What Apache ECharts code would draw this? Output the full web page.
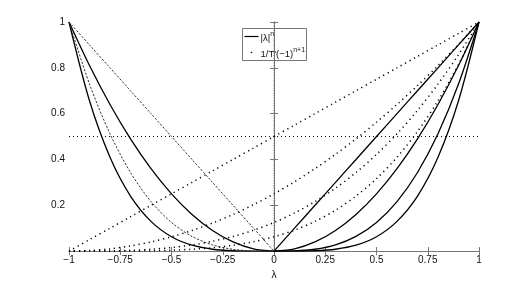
<!DOCTYPE html>
<html><head><meta charset="utf-8">
<script src="https://cdn.jsdelivr.net/npm/echarts@6/dist/echarts.min.js"></script>
<style>html,body{margin:0;padding:0;background:#fff}#c{width:530px;height:285px}</style>
</head><body><div id="c"></div>
<script>
// Right half abscissae and |λ|^n values
var xPos = [0,0.1,0.2,0.3,0.4,0.5,0.6,0.7,0.8,0.9,1];
var pow1 = [0,0.1,0.2,0.3,0.4,0.5,0.6,0.7,0.8,0.9,1];
var pow2 = [0,0.01,0.04,0.09,0.16,0.25,0.36,0.49,0.64,0.81,1];
var pow3 = [0,0.001,0.008,0.027,0.064,0.125,0.216,0.343,0.512,0.729,1];
var pow4 = [0,0.0001,0.0016,0.0081,0.0256,0.0625,0.1296,0.2401,0.4096,0.6561,1];
// Full abscissae and dotted curves
var xFull = [-1,-0.9,-0.8,-0.7,-0.6,-0.5,-0.4,-0.3,-0.2,-0.1,0,0.1,0.2,0.3,0.4,0.5,0.6,0.7,0.8,0.9,1];
var dot1 = [0,0.05,0.1,0.15,0.2,0.25,0.3,0.35,0.4,0.45,0.5,0.55,0.6,0.65,0.7,0.75,0.8,0.85,0.9,0.95,1];
var dot2 = [0,0.0025,0.01,0.0225,0.04,0.0625,0.09,0.1225,0.16,0.2025,0.25,0.3025,0.36,0.4225,0.49,0.5625,0.64,0.7225,0.81,0.9025,1];
var dot3 = [0,0.0001,0.001,0.0034,0.008,0.0156,0.027,0.0429,0.064,0.0911,0.125,0.1664,0.216,0.2746,0.343,0.4219,0.512,0.6141,0.729,0.8574,1];
var dot4 = [0,0,0.0001,0.0005,0.0016,0.0039,0.0081,0.015,0.0256,0.041,0.0625,0.0915,0.1296,0.1785,0.2401,0.3164,0.4096,0.522,0.6561,0.8145,1];
var xTicks = [-1,-0.75,-0.5,-0.25,0,0.25,0.5,0.75,1];
var yTicks = [0.2,0.4,0.6,0.8,1];

function mirror(xs, ys){ var o=[]; for (var i=xs.length-1;i>=0;i--) o.push([-xs[i], ys[i]]); return o; }
function pairs(xs, ys){ return xs.map(function(x,i){return [x, ys[i]];}); }

var solid = {color:'#000', width:1.3, type:'solid'};
var dotted = {color:'#000', width:1.5, type:[1.2,3.8], cap:'butt'};
var thinDot = {color:'#333', width:1, type:[2.2,1.6]};

function S(data, ls){ return {type:'line', data:data, showSymbol:false, smooth:0.3, lineStyle:ls, silent:true, animation:false, z:3}; }

var series = [
  S(pairs(xPos,pow1), solid), S(pairs(xPos,pow2), solid), S(pairs(xPos,pow3), solid), S(pairs(xPos,pow4), solid),
  S(mirror(xPos,pow2), solid), S(mirror(xPos,pow4), solid),
  S(mirror(xPos,pow1), thinDot), S(mirror(xPos,pow3), thinDot),
  S(pairs(xFull,dot1), dotted), S(pairs(xFull,dot2), dotted), S(pairs(xFull,dot3), dotted), S(pairs(xFull,dot4), dotted),
  {type:'line', data:[[-1,0.5],[1,0.5]], showSymbol:false, lineStyle:{color:'#000',width:1,type:[1,3]}, silent:true, animation:false},
  {type:'line', data:[[0,0],[0,1]], showSymbol:false, lineStyle:{color:'#666',width:1,type:[1,1.5]}, silent:true, animation:false, z:1}
];

var ax = {color:'#777', width:1};
var richT = {
  b:{fontFamily:'Liberation Sans', fontSize:9.5, fill:'#111', lineHeight:13, verticalAlign:'bottom'},
  s:{fontFamily:'Liberation Sans', fontSize:7, fill:'#111', lineHeight:13, verticalAlign:'top'}
};
var chart = echarts.init(document.getElementById('c'), null, {renderer:'canvas'});
chart.setOption({
  animation:false,
  backgroundColor:'#fff',
  grid:{left:69, right:51, top:22, bottom:32, show:false},
  xAxis:[
    {type:'value', min:-1, max:1, interval:0.25, axisLine:{onZero:false, lineStyle:ax},
     axisTick:{inside:true, length:4, lineStyle:ax}, splitLine:{show:false},
     axisLabel:{color:'#111', fontFamily:'Liberation Sans', fontSize:10, margin:4,
       formatter:function(v){ return (v<0?'\u2212':'') + String(Math.abs(v)); }},
     name:'\u03bb', nameLocation:'middle', nameGap:14, nameTextStyle:{color:'#111', fontFamily:'Liberation Sans', fontSize:10}},
    {type:'value', position:'top', min:-1, max:1, interval:0.25, axisLine:{lineStyle:ax},
     axisTick:{inside:true, length:4, lineStyle:ax}, axisLabel:{show:false}, splitLine:{show:false}}
  ],
  yAxis:[
    {type:'value', min:0, max:1, interval:0.2, axisLine:{show:true, lineStyle:ax},
     axisTick:{inside:true, length:4, lineStyle:ax}, splitLine:{show:false},
     axisLabel:{color:'#111', fontFamily:'Liberation Sans', fontSize:10, margin:4,
       formatter:function(v){ return v===0 ? '' : String(Math.round(v*10)/10); }}},
    {type:'value', position:'right', min:0, max:1, interval:0.2, axisLine:{show:true, lineStyle:ax},
     axisTick:{inside:true, length:4, lineStyle:ax}, axisLabel:{show:false}, splitLine:{show:false}}
  ],
  series: series,
  graphic:[{
    type:'group', left:242, top:28, z:100,
    children:[
      {type:'rect', shape:{x:0,y:0,width:64,height:32}, style:{fill:'#fff', stroke:'#777', lineWidth:1}},
      {type:'line', shape:{x1:2,y1:8,x2:16,y2:8}, style:{stroke:'#000', lineWidth:1.2}},
      {type:'text', x:18, y:2, style:{text:'{b||\u03bb|}{s|n}', rich:richT}},
      {type:'circle', shape:{cx:9, cy:24, r:0.8}, style:{fill:'#000'}},
      {type:'text', x:18, y:18, style:{text:'{b|1/T\'(\u22121)}{s|n+1}', rich:richT}}
    ]
  }]
});
</script></body></html>
